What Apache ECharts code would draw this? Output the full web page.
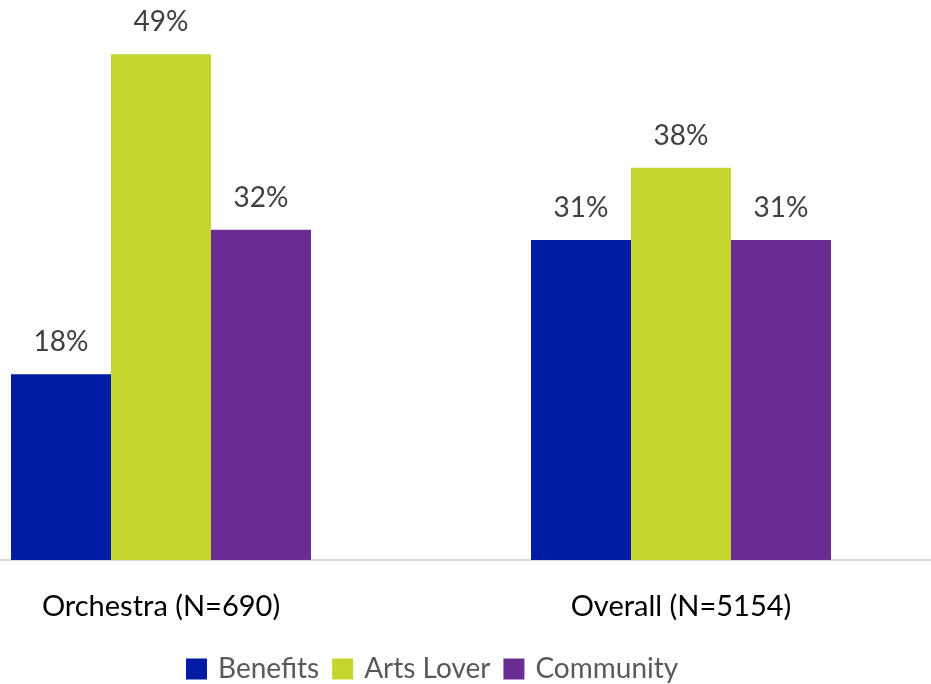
<!DOCTYPE html>
<html>
<head>
<meta charset="utf-8" />
<style>
  html, body { margin: 0; padding: 0; background: #fff; }
  #main { width: 931px; height: 684px; }
</style>
</head>
<body>
<div id="main"></div>
<script src="https://cdn.jsdelivr.net/npm/echarts@6/dist/echarts.min.js"></script>
<script>
var categories = ['Orchestra (N=690)', 'Overall (N=5154)'];
var benefits = [18, 31];
var artsLover = [49, 38];
var community = [32, 31];

var chart = echarts.init(document.getElementById('main'));

function bar(name, data, color) {
  return {
    name: name,
    type: 'bar',
    data: data,
    barWidth: 100,
    barGap: '0%',
    itemStyle: { color: color },
    label: {
      show: true,
      position: 'top',
      distance: 18,
      formatter: '{c}%',
      color: '#404040',
      fontSize: 28,
      fontFamily: 'Lato'
    }
  };
}

chart.setOption({
  animation: false,
  textStyle: { fontFamily: 'Lato' },
  grid: { left: -99, right: -10, top: 44, bottom: 124, outerBoundsMode: 'none', containLabel: false },
  legend: {
    top: 655,
    left: 186,
    padding: 0,
    itemWidth: 21,
    itemHeight: 21,
    itemGap: 13,
    icon: 'rect',
    textStyle: { color: '#595959', fontSize: 28, fontFamily: 'Lato', padding: [0, 0, 0, 6] }
  },
  xAxis: {
    type: 'category',
    data: categories,
    axisLine: { lineStyle: { color: '#d9d9d9', width: 2 } },
    axisTick: { show: false },
    axisLabel: { color: '#000', fontSize: 29, margin: 32, fontFamily: 'Lato' }
  },
  yAxis: {
    type: 'value',
    min: 0,
    max: 50,
    show: false,
    splitLine: { show: false }
  },
  series: [
    bar('Benefits', benefits, '#001ca3'),
    bar('Arts Lover', artsLover, '#c5d52f'),
    bar('Community', community, '#6a2d91')
  ]
});
</script>
</body>
</html>
